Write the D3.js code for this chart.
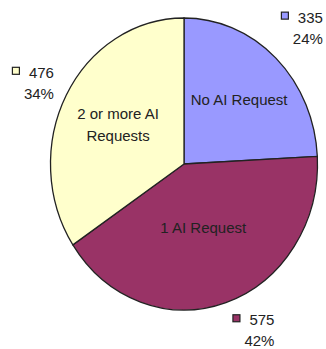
<!DOCTYPE html>
<html>
<head>
<meta charset="utf-8">
<script src="https://cdn.jsdelivr.net/npm/d3@7/dist/d3.min.js"></script>
<style>
  html, body { margin: 0; padding: 0; background: #fff; }
  svg { display: block; }
  text { font-family: "Liberation Sans", Arial, sans-serif; font-size: 15px; fill: #222; }
</style>
</head>
<body>
<svg id="chart" width="326" height="349"></svg>
<script>
// Requests per session, by number of AI requests
const categories = ["No AI Request", "1 AI Request", "2 or more AI Requests"];
const counts = [335, 575, 476];
const percentLabels = ["24%", "42%", "34%"];
const innerLabelLines = [["No AI Request"], ["1 AI Request"], ["2 or more AI", "Requests"]];
const colors = ["#9999ff", "#993366", "#ffffcc"];

const width = 326, height = 349;
const cx = 184, cy = 164;     // pie centre
const rx = 133.5, ry = 146;   // the pie is drawn slightly narrower than tall

const svg = d3.select("#chart");

const pie = d3.pie().sort(null).value(d => d)
  .startAngle(0).endAngle(2 * Math.PI);
const slices = pie(counts);

const arc = d3.arc().innerRadius(0).outerRadius(ry);

const g = svg.append("g")
  .attr("transform", `translate(${cx},${cy}) scale(${rx / ry},1)`);

g.selectAll("path")
  .data(slices)
  .join("path")
  .attr("d", arc)
  .attr("fill", (d, i) => colors[i])
  .attr("stroke", "#222")
  .attr("stroke-width", 1.3)
  .attr("vector-effect", "non-scaling-stroke");

// point on the ellipse at a given angle (0 = 12 o'clock, clockwise) and radial factor
function pointAt(angle, f) {
  return [cx + rx * f * Math.sin(angle), cy - ry * f * Math.cos(angle)];
}
const mid = d => (d.startAngle + d.endAngle) / 2;

// in-slice category labels
const innerFactor = [0.6, 0.46, 0.56];
const lineGap = 22;
slices.forEach((d, i) => {
  const [x, y] = pointAt(mid(d), innerFactor[i]);
  const lines = innerLabelLines[i];
  const t = svg.append("text")
    .attr("text-anchor", "middle");
  lines.forEach((ln, k) => {
    t.append("tspan")
      .attr("x", x)
      .attr("y", y + 5 + (k - (lines.length - 1) / 2) * lineGap)
      .text(ln);
  });
});

// outside value labels with a small colour key
const outerFactor = 1.25;
const nudge = [[4, -4], [18, -7], [-3, 5]];
slices.forEach((d, i) => {
  const [px, py] = pointAt(mid(d), outerFactor);
  const ax = px + nudge[i][0], ay = py + nudge[i][1];
  const right = ax + 20;
  const base1 = ay - 5, base2 = ay + 16;
  svg.append("rect")
    .attr("x", right - 41.5)
    .attr("y", base1 - 10.5)
    .attr("width", 7)
    .attr("height", 7)
    .attr("fill", colors[i])
    .attr("stroke", "#222")
    .attr("stroke-width", 1.2);
  svg.append("text")
    .attr("x", right).attr("y", base1)
    .attr("text-anchor", "end")
    .text(counts[i]);
  svg.append("text")
    .attr("x", right).attr("y", base2)
    .attr("text-anchor", "end")
    .text(percentLabels[i]);
});
</script>
</body>
</html>
